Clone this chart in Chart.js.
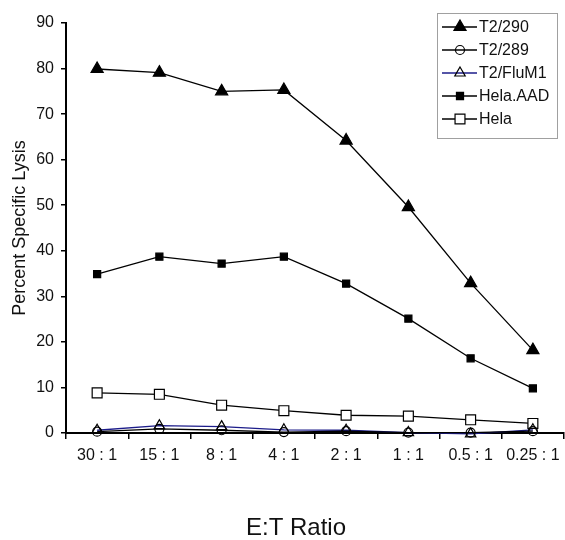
<!DOCTYPE html>
<html>
<head>
<meta charset="utf-8">
<script src="https://cdn.jsdelivr.net/npm/chart.js@4.4.1/dist/chart.umd.min.js"></script>
<style>
  html, body { margin: 0; padding: 0; background: #fff; }
  #wrap { width: 565px; height: 540px; }
</style>
</head>
<body>
<div id="wrap"><canvas id="lysis-chart" width="565" height="540"></canvas></div>
<script>
const ratios = ["30 : 1", "15 : 1", "8 : 1", "4 : 1", "2 : 1", "1 : 1", "0.5 : 1", "0.25 : 1"];
const t2_290 = [79.9, 79.1, 75.0, 75.3, 64.2, 49.6, 32.9, 18.2];
const t2_289 = [0.3, 0.9, 0.6, 0.2, 0.4, 0.1, 0.1, 0.4];
const t2_flum1 = [0.6, 1.6, 1.4, 0.7, 0.6, 0.1, -0.2, 0.7];
const hela_aad = [34.9, 38.7, 37.2, 38.7, 32.8, 25.1, 16.4, 9.8];
const hela = [8.8, 8.5, 6.1, 4.9, 3.9, 3.7, 2.9, 2.1];
const yTicks = [0, 10, 20, 30, 40, 50, 60, 70, 80, 90];

const FONT = '"Liberation Sans", Arial, sans-serif';

function series(label, data, style) {
  return Object.assign({
    label: label,
    data: data,
    borderColor: "#000",
    borderWidth: 1.3,
    pointBorderColor: "#000",
    pointBorderWidth: 1.2,
    pointHoverRadius: 0,
    clip: false,
    tension: 0,
  }, style);
}

const datasets = [
  series("T2/290", t2_290, { pointStyle: "triangle", pointRadius: 7, pointBackgroundColor: "#000" }),
  series("T2/289", t2_289, { pointStyle: "circle", pointRadius: 4.5, pointBackgroundColor: "rgba(0,0,0,0)" }),
  series("T2/FluM1", t2_flum1, { borderColor: "#1c1c8a", pointStyle: "triangle", pointRadius: 6, pointBackgroundColor: "rgba(0,0,0,0)" }),
  series("Hela.AAD", hela_aad, { pointStyle: "rect", pointRadius: 5, pointBackgroundColor: "#000" }),
  series("Hela", hela, { pointStyle: "rect", pointRadius: 7, pointBackgroundColor: "#fff" }),
];

// line + marker legend, like the spreadsheet one
function drawMarker(ctx, style, x, y, r, fill) {
  ctx.beginPath();
  if (style === "triangle") {
    ctx.moveTo(x, y - r);
    ctx.lineTo(x + r * 0.866, y + r * 0.5);
    ctx.lineTo(x - r * 0.866, y + r * 0.5);
    ctx.closePath();
  } else if (style === "rect") {
    const s = r * Math.SQRT1_2;
    ctx.rect(x - s, y - s, 2 * s, 2 * s);
  } else {
    ctx.arc(x, y, r, 0, Math.PI * 2);
  }
  ctx.fillStyle = fill;
  ctx.fill();
  ctx.strokeStyle = "#000";
  ctx.lineWidth = 1.2;
  ctx.stroke();
}

const boxLegend = {
  id: "boxLegend",
  afterDraw(chart) {
    const ctx = chart.ctx;
    const left = 437, top = 13, w = 120, h = 125, rowH = 23;
    ctx.save();
    ctx.fillStyle = "#fff";
    ctx.fillRect(left, top, w, h);
    ctx.strokeStyle = "#a0a0a0";
    ctx.lineWidth = 1;
    ctx.strokeRect(left + 0.5, top + 0.5, w, h);
    ctx.font = "16px " + FONT;
    ctx.textBaseline = "middle";
    chart.data.datasets.forEach((ds, i) => {
      const y = top + 14 + i * rowH;
      ctx.beginPath();
      ctx.moveTo(left + 5, y);
      ctx.lineTo(left + 40, y);
      ctx.strokeStyle = ds.borderColor;
      ctx.lineWidth = 1.3;
      ctx.stroke();
      drawMarker(ctx, ds.pointStyle, left + 23, y, ds.pointRadius, ds.pointBackgroundColor);
      ctx.fillStyle = "#111";
      ctx.fillText(ds.label, left + 42, y + 1);
    });
    ctx.restore();
  },
};

// x axis caption sits a bit left of the plot centre in the original
const xCaption = {
  id: "xCaption",
  afterDraw(chart) {
    const ctx = chart.ctx;
    const area = chart.chartArea;
    ctx.save();
    ctx.font = "24px " + FONT;
    ctx.fillStyle = "#111";
    ctx.textAlign = "center";
    ctx.textBaseline = "middle";
    ctx.fillText("E:T Ratio", area.left + 230, area.bottom + 95);
    ctx.restore();
  },
};

new Chart(document.getElementById("lysis-chart"), {
  type: "line",
  data: { labels: ratios, datasets: datasets },
  plugins: [boxLegend, xCaption],
  options: {
    responsive: false,
    animation: false,
    devicePixelRatio: 1,
    // autoPadding off: the big markers would otherwise shrink the plot on the right
    layout: { autoPadding: false, padding: { top: 23, right: 1, bottom: 0, left: 0 } },
    plugins: { legend: { display: false }, tooltip: { enabled: false } },
    scales: {
      x: {
        type: "category",
        offset: true,
        grid: { offset: true, drawOnChartArea: false, drawTicks: true, tickLength: 6, color: "#000", lineWidth: 1.5 },
        border: { display: true, color: "#000", width: 2 },
        ticks: { color: "#111", font: { family: FONT, size: 16 }, maxRotation: 0, autoSkip: false, padding: 7 },
        afterFit(scale) {
          scale.height = 107;
          scale.paddingRight = 0;
        },
      },
      y: {
        min: 0,
        max: 90,
        afterBuildTicks(scale) { scale.ticks = yTicks.map((v) => ({ value: v })); },
        grid: { drawOnChartArea: false, drawTicks: true, tickLength: 5, color: "#000", lineWidth: 1.5 },
        border: { display: true, color: "#000", width: 2 },
        ticks: { color: "#111", font: { family: FONT, size: 16 }, padding: 7 },
        title: { display: true, text: "Percent Specific Lysis", color: "#111", font: { family: FONT, size: 18 }, padding: { top: 9, bottom: 0 } },
        afterFit(scale) { scale.width = 66; },
      },
    },
  },
});
</script>
</body>
</html>
